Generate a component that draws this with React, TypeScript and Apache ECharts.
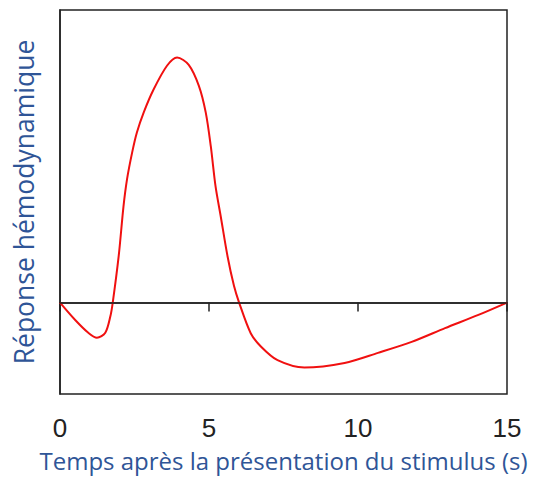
import React, { useEffect, useRef } from "react";
import * as echarts from "echarts";

const times = [0, 0.51, 0.95, 1.24, 1.52, 1.69, 1.77, 1.97, 2.13, 2.25, 2.42, 2.58, 2.81, 3.14, 3.59, 3.93, 4.32, 4.66, 4.89, 5.06, 5.22, 5.39, 5.62, 5.84, 6.01, 6.4, 6.74, 7.3, 8.2, 9.55, 10.67, 11.8, 12.92, 14.04, 15];
const responses = [0, -0.19, -0.33, -0.385, -0.33, -0.15, 0, 0.51, 1.05, 1.35, 1.64, 1.86, 2.08, 2.33, 2.59, 2.68, 2.6, 2.37, 2.08, 1.71, 1.27, 0.95, 0.51, 0.18, 0, -0.335, -0.48, -0.63, -0.71, -0.66, -0.55, -0.43, -0.28, -0.135, 0];
const xTicks = [0, 5, 10, 15];
const xTitle = "Temps après la présentation du stimulus (s)";
const yTitle = "Réponse hémodynamique";

export default function App() {
  const ref = useRef<HTMLDivElement>(null);
  useEffect(() => {
    const chart = echarts.init(ref.current!, null, { renderer: "svg" });
    const axisColor = "#222";
    chart.setOption({
      animation: false,
      grid: {
        left: 60,
        right: 30,
        top: 10,
        bottom: 85,
        show: true,
        borderColor: axisColor,
        borderWidth: 1.5,
        backgroundColor: "transparent",
      },
      xAxis: {
        type: "value",
        min: 0,
        max: 15,
        interval: 5,
        name: xTitle,
        nameLocation: "middle",
        nameGap: 54,
        nameTextStyle: { color: "#2F5597", fontSize: 24, fontFamily: "Open Sans" },
        axisLine: { show: true, lineStyle: { color: axisColor, width: 1.5 } },
        axisTick: { show: true, length: 9, lineStyle: { color: axisColor, width: 1.5 } },
        axisLabel: {
          color: "#222",
          fontSize: 26,
          fontFamily: "Liberation Sans",
          margin: 21,
          formatter: (v: number) => (xTicks.includes(v) ? String(v) : ""),
        },
        splitLine: { show: false },
      },
      yAxis: {
        type: "value",
        min: -1,
        max: 3.2,
        name: yTitle,
        nameLocation: "middle",
        nameGap: 23,
        nameTextStyle: { color: "#2F5597", fontSize: 26.5, fontFamily: "Open Sans" },
        axisLine: { show: true, lineStyle: { color: axisColor, width: 1.5 } },
        axisTick: { show: false },
        axisLabel: { show: false },
        splitLine: { show: false },
      },
      series: [
        {
          type: "line",
          data: times.map((t, i) => [t, responses[i]]),
          smooth: 0.3,
          symbol: "none",
          lineStyle: { color: "#f01010", width: 2 },
          markLine: {
            silent: true,
            symbol: "none",
            label: { show: false },
            lineStyle: { color: axisColor, width: 1.5, type: "solid" },
            data: [{ yAxis: 0 }],
          },
          z: 3,
        },
      ],
    });
    return () => chart.dispose();
  }, []);
  return <div ref={ref} style={{ position: "absolute", left: 0, top: 0, width: 537, height: 479 }} />;
}
